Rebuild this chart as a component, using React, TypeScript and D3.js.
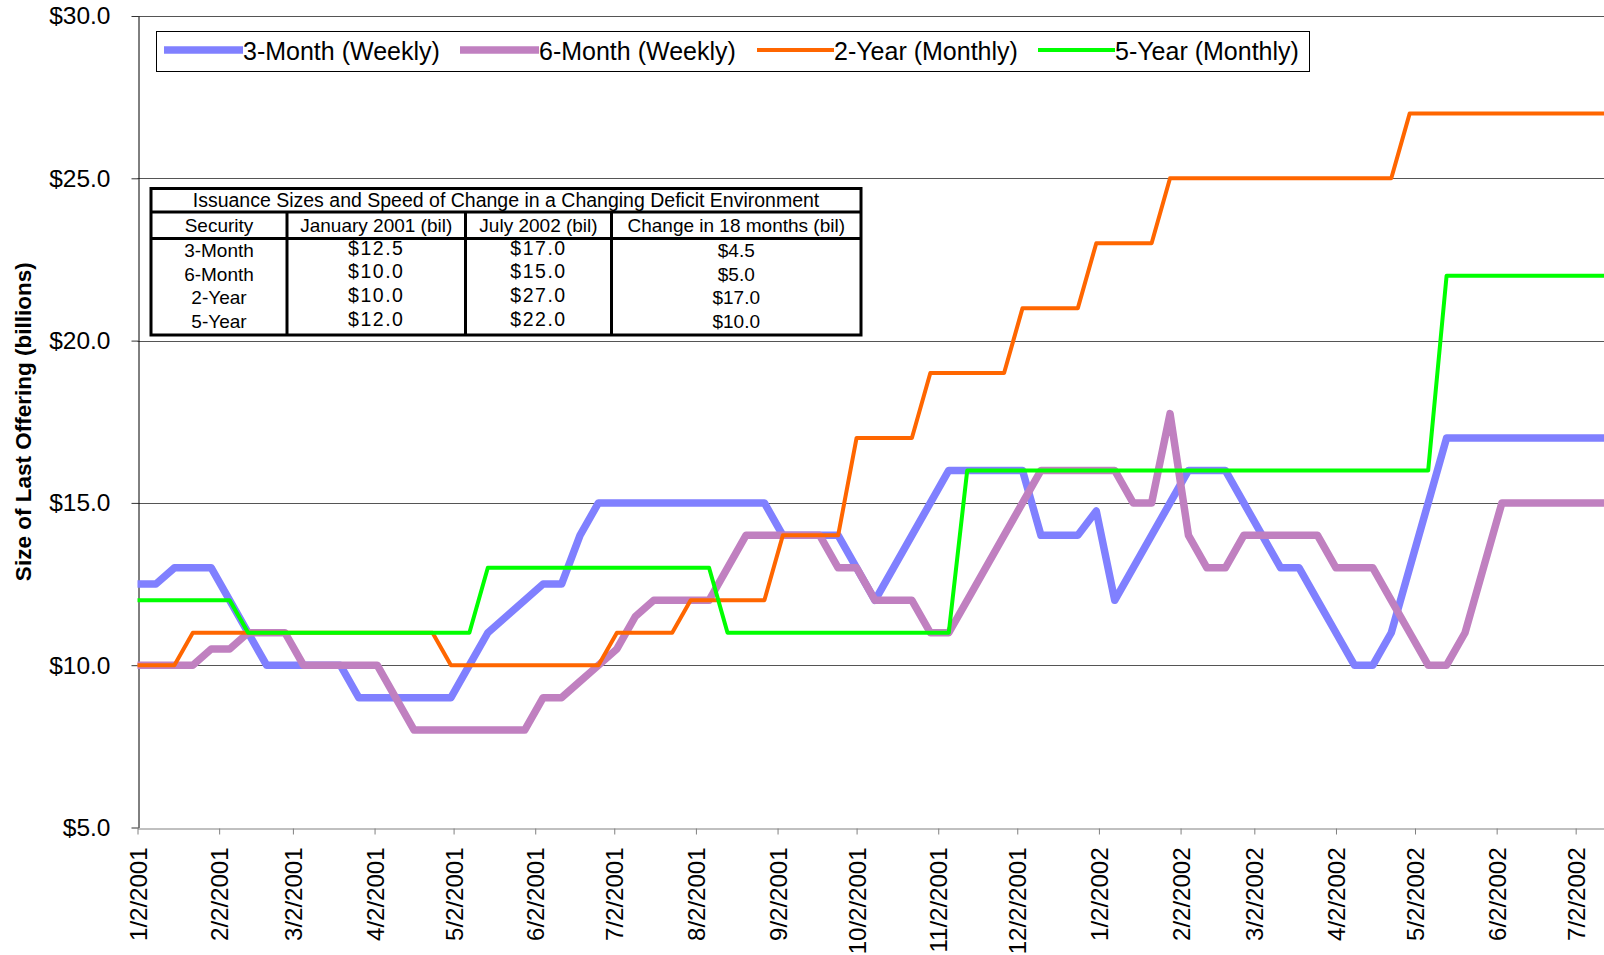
import React, { useEffect, useRef } from "react";
import {
  select,
  scaleLinear,
  scaleTime,
  line,
  timeDay,
  timeMonth,
  timeFormat,
  axisLeft,
  axisBottom,
} from "d3";

// weekly observations starting 1/2/2001, one value per week
const START_DATE = new Date(2001, 0, 2);
const END_DATE = new Date(2002, 6, 15);

const threeMonth = [
  12.5, 12.5, 13, 13, 13, 12, 11, 10, 10, 10,
  10, 10, 9, 9, 9, 9, 9, 9, 10, 11,
  11.5, 12, 12.5, 12.5, 14, 15, 15, 15, 15, 15,
  15, 15, 15, 15, 15, 14, 14, 14, 14, 13,
  12, 13, 14, 15, 16, 16, 16, 16, 16, 14,
  14, 14, 14.75, 12, 13, 14, 15, 16, 16, 16,
  15, 14, 13, 13, 12, 11, 10, 10, 11, 13,
  15, 17, 17, 17, 17, 17, 17, 17, 17, 17, 17,
];
const sixMonth = [
  10, 10, 10, 10, 10.5, 10.5, 11, 11, 11, 10,
  10, 10, 10, 10, 9, 8, 8, 8, 8, 8,
  8, 8, 9, 9, 9.5, 10, 10.5, 11.5, 12, 12,
  12, 12, 13, 14, 14, 14, 14, 14, 13, 13,
  12, 12, 12, 11, 11, 12, 13, 14, 15, 16,
  16, 16, 16, 16, 15, 15, 17.75, 14, 13, 13,
  14, 14, 14, 14, 14, 13, 13, 13, 12, 11,
  10, 10, 11, 13, 15, 15, 15, 15, 15, 15, 15,
];
const twoYear = [
  10, 10, 10, 11, 11, 11, 11, 11, 11, 11,
  11, 11, 11, 11, 11, 11, 11, 10, 10, 10,
  10, 10, 10, 10, 10, 10, 11, 11, 11, 11,
  12, 12, 12, 12, 12, 14, 14, 14, 14, 17,
  17, 17, 17, 19, 19, 19, 19, 19, 21, 21,
  21, 21, 23, 23, 23, 23, 25, 25, 25, 25,
  25, 25, 25, 25, 25, 25, 25, 25, 25, 27,
  27, 27, 27, 27, 27, 27, 27, 27, 27, 27, 27,
];
const fiveYear = [
  12, 12, 12, 12, 12, 12, 11, 11, 11, 11,
  11, 11, 11, 11, 11, 11, 11, 11, 11, 13,
  13, 13, 13, 13, 13, 13, 13, 13, 13, 13,
  13, 13, 11, 11, 11, 11, 11, 11, 11, 11,
  11, 11, 11, 11, 11, 16, 16, 16, 16, 16,
  16, 16, 16, 16, 16, 16, 16, 16, 16, 16,
  16, 16, 16, 16, 16, 16, 16, 16, 16, 16,
  16, 22, 22, 22, 22, 22, 22, 22, 22, 22, 22,
];

const seriesNames = [
  "3-Month (Weekly)",
  "6-Month (Weekly)",
  "2-Year (Monthly)",
  "5-Year (Monthly)",
];
const seriesValues = [threeMonth, sixMonth, twoYear, fiveYear];
const seriesColors = ["#8080ff", "#c080c0", "#ff6600", "#00ff00"];
const seriesWidths = [7.5, 7.5, 4, 4];

const yTicks = [5, 10, 15, 20, 25, 30];

const tableTitle =
  "Issuance Sizes and Speed of Change in a Changing Deficit Environment";
const tableHeader = [
  "Security",
  "January 2001 (bil)",
  "July 2002 (bil)",
  "Change in 18 months (bil)",
];
const tableRows = [
  ["3-Month", "$12.5", "$17.0", "$4.5"],
  ["6-Month", "$10.0", "$15.0", "$5.0"],
  ["2-Year", "$10.0", "$27.0", "$17.0"],
  ["5-Year", "$12.0", "$22.0", "$10.0"],
];

const FONT = "'Liberation Sans', Arial, Helvetica, sans-serif";
const WIDTH = 1604;
const HEIGHT = 955;
const margin = { left: 137.5, top: 16, bottom: 827.5 };
const PX_PER_DAY = 2.634;

const App: React.FC = () => {
  const svgRef = useRef<SVGSVGElement>(null);

  useEffect(() => {
    const svg = select(svgRef.current);
    svg.selectAll("*").remove();

    const x = scaleTime()
      .domain([START_DATE, END_DATE])
      .range([
        margin.left,
        margin.left + PX_PER_DAY * timeDay.count(START_DATE, END_DATE),
      ]);
    const y = scaleLinear().domain([5, 30]).range([margin.bottom, margin.top]);

    // gridlines
    svg
      .append("g")
      .selectAll("line")
      .data(yTicks.filter((t) => t > 5))
      .join("line")
      .attr("x1", margin.left)
      .attr("x2", WIDTH)
      .attr("y1", (d) => Math.round(y(d)) + 0.5)
      .attr("y2", (d) => Math.round(y(d)) + 0.5)
      .attr("stroke", "#555")
      .attr("stroke-width", 1);

    // x axis
    const monthTicks = timeMonth
      .range(new Date(2001, 0, 1), new Date(2002, 6, 2))
      .map((d) => timeDay.offset(d, 1));
    const xAxis = svg
      .append("g")
      .attr("transform", `translate(0,${Math.round(margin.bottom) + 0.5})`)
      .call(
        axisBottom(x)
          .tickValues(monthTicks)
          .tickFormat((d) => timeFormat("%-m/%-d/%Y")(d as Date))
          .tickSize(6)
          .tickSizeOuter(0)
      );
    xAxis.select(".domain").attr("stroke", "#808080");
    xAxis.selectAll(".tick line").attr("stroke", "#808080");
    xAxis
      .selectAll(".tick text")
      .attr("transform", "rotate(-90)")
      .attr("x", -19)
      .attr("y", 0)
      .attr("dy", "0.36em")
      .attr("text-anchor", "end")
      .style("font-family", FONT)
      .style("font-size", "24px")
      .attr("fill", "#000");

    // y axis
    const yAxis = svg
      .append("g")
      .attr("transform", `translate(${Math.round(margin.left) + 0.5},0)`)
      .call(
        axisLeft(y)
          .tickValues(yTicks)
          .tickFormat((d) => `$${(d as number).toFixed(1)}`)
          .tickSize(7)
          .tickPadding(21)
          .tickSizeOuter(0)
      );
    yAxis.select(".domain").attr("stroke", "#000");
    yAxis.selectAll(".tick line").attr("stroke", "#333");
    yAxis
      .selectAll(".tick text")
      .style("font-family", FONT)
      .style("font-size", "24.5px")
      .attr("fill", "#000");

    // axis title
    svg
      .append("text")
      .attr(
        "transform",
        `translate(23,${(margin.top + margin.bottom) / 2}) rotate(-90)`
      )
      .attr("text-anchor", "middle")
      .attr("dy", "0.35em")
      .style("font-family", FONT)
      .style("font-size", "22.5px")
      .style("font-weight", "bold")
      .text("Size of Last Offering (billions)");

    // series
    const path = line<number>()
      .x((_, i) => x(timeDay.offset(START_DATE, i * 7)))
      .y((d) => y(d));
    seriesValues.forEach((vals, s) => {
      svg
        .append("path")
        .datum(vals)
        .attr("d", path)
        .attr("fill", "none")
        .attr("stroke", seriesColors[s])
        .attr("stroke-width", seriesWidths[s])
        .attr("stroke-linejoin", "round");
    });

    // legend
    const legend = svg.append("g");
    legend
      .append("rect")
      .attr("x", 156.5)
      .attr("y", 31.5)
      .attr("width", 1153)
      .attr("height", 40)
      .attr("fill", "#fff")
      .attr("stroke", "#000");
    const legendX = [164, 460, 757, 1038];
    const legendLen = [79, 79, 77, 77];
    seriesNames.forEach((name, s) => {
      legend
        .append("line")
        .attr("x1", legendX[s])
        .attr("x2", legendX[s] + legendLen[s])
        .attr("y1", 50)
        .attr("y2", 50)
        .attr("stroke", seriesColors[s])
        .attr("stroke-width", seriesWidths[s]);
      legend
        .append("text")
        .attr("x", legendX[s] + legendLen[s])
        .attr("y", 51)
        .attr("dy", "0.35em")
        .style("font-family", FONT)
        .style("font-size", "25px")
        .text(name);
    });

    // table
    const table = svg.append("g").style("font-family", FONT);
    const colEdges = [151, 287, 465.5, 611.5, 861];
    const top = 188.5;
    const bottom = 335;
    table
      .append("rect")
      .attr("x", colEdges[0])
      .attr("y", top)
      .attr("width", colEdges[4] - colEdges[0])
      .attr("height", bottom - top)
      .attr("fill", "#fff")
      .attr("stroke", "#000")
      .attr("stroke-width", 3);
    [212, 238.5].forEach((ly) => {
      table
        .append("line")
        .attr("x1", colEdges[0])
        .attr("x2", colEdges[4])
        .attr("y1", ly)
        .attr("y2", ly)
        .attr("stroke", "#000")
        .attr("stroke-width", 3);
    });
    colEdges.slice(1, 4).forEach((cx) => {
      table
        .append("line")
        .attr("x1", cx)
        .attr("x2", cx)
        .attr("y1", 212)
        .attr("y2", bottom)
        .attr("stroke", "#000")
        .attr("stroke-width", 3);
    });
    table
      .append("text")
      .attr("x", (colEdges[0] + colEdges[4]) / 2)
      .attr("y", 200)
      .attr("dy", "0.35em")
      .attr("text-anchor", "middle")
      .style("font-size", "19.5px")
      .text(tableTitle);
    const colMid = (c: number) => (colEdges[c] + colEdges[c + 1]) / 2;
    tableHeader.forEach((h, c) => {
      table
        .append("text")
        .attr("x", colMid(c))
        .attr("y", 225.5)
        .attr("dy", "0.35em")
        .attr("text-anchor", "middle")
        .style("font-size", "19px")
        .text(h);
    });
    tableRows.forEach((row, r) => {
      row.forEach((cell, c) => {
        const spaced = c === 1 || c === 2;
        table
          .append("text")
          .attr("x", colMid(c))
          .attr("y", 250.5 + r * 23.6 - (spaced ? 2.5 : 0))
          .attr("dy", "0.35em")
          .attr("text-anchor", "middle")
          .style("font-size", spaced ? "19.5px" : "19px")
          .style("letter-spacing", spaced ? "1.5px" : "0px")
          .text(cell);
      });
    });
  }, []);

  return (
    <svg
      ref={svgRef}
      width={WIDTH}
      height={HEIGHT}
      style={{ position: "absolute", left: 0, top: 0, background: "#fff" }}
    />
  );
};

export default App;
